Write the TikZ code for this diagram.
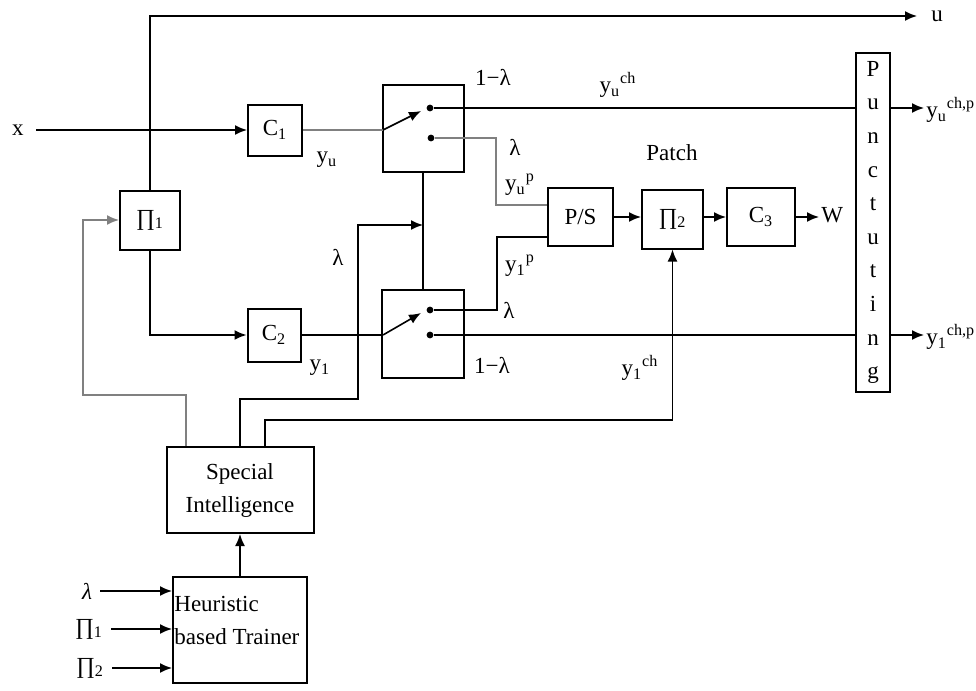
\documentclass[tikz,border=0pt]{standalone}
\usepackage{fontspec}
\setmainfont{Liberation Serif}
\usetikzlibrary{arrows.meta}

\begin{document}
\begin{tikzpicture}[x=0.5pt, y=-0.5pt,
        font=\fontsize{11.5}{16.5}\selectfont,
        box/.style={draw, rectangle, line width=1pt, inner sep=0pt, text centered},
        lbl/.style={inner sep=1pt},
        wire/.style={line width=0.8pt},
        faint/.style={line width=0.8pt, black!50},
        arrow/.style={-{Latex[length=6pt,width=5pt]}, line width=0.8pt},
        contact/.style={circle, fill, inner sep=0pt, minimum size=3.4pt}
    ]
    \useasboundingbox (0,0) rectangle (976,691);

    % Encoders
    \begin{scope}
        \node[box, minimum width=30pt, minimum height=29.5pt] (Pi1) at (150,220) {∏\textsubscript{1}};
        \node[box, minimum width=27pt, minimum height=25.5pt] (C1) at (275,130) {C\textsubscript{1}};
        \node[box, minimum width=26.5pt, minimum height=26.5pt] (C2) at (274,335) {C\textsubscript{2}};
    \end{scope}

    % Switches
    \begin{scope}
        \node[box, minimum width=40.5pt, minimum height=43.5pt] (SW1) at (423,128.5) {};
        \node[box, minimum width=41pt, minimum height=44pt] (SW2) at (423,334) {};
        \node[contact] (sw1a) at (430,108) {};
        \node[contact] (sw1b) at (431,138) {};
        \node[contact] (sw2a) at (430,310) {};
        \node[contact] (sw2b) at (430,335) {};
        \coordinate (sw1in) at (383,130);
        \coordinate (sw1tip) at (421,111);
        \coordinate (sw2in) at (383,335);
        \coordinate (sw2tip) at (421,313);
    \end{scope}

    % Patch chain
    \begin{scope}
        \node[box, minimum width=32.5pt, minimum height=29pt] (PS) at (580.5,217) {P/S};
        \node[box, minimum width=30.5pt, minimum height=29.5pt] (Pi2) at (672.5,219) {∏\textsubscript{2}};
        \node[box, minimum width=34pt, minimum height=29pt] (C3) at (761,217) {C\textsubscript{3}};
        \node[box, minimum width=17pt, minimum height=169.5pt, align=center, font=\fontsize{11.5}{16.8}\selectfont] (Punct) at (873,222.5) {P\\u\\n\\c\\t\\u\\t\\i\\n\\g};
    \end{scope}

    % Trainer
    \begin{scope}
        \node[box, minimum width=73.5pt, minimum height=43pt, align=center] (SI) at (240,490) {Special\\Intelligence};
        \node[box, minimum width=67pt, minimum height=53pt, label={[lbl, anchor=north west, align=left, yshift=-9pt]north west:Heuristic\\based Trainer}] (HT) at (240,630) {};
    \end{scope}

    % Labels
    \node[lbl] (xin) at (18,130) {x};
    \node[lbl] (yu) at (327,160) {y\textsubscript{u}};
    \node[lbl] (y1) at (320,368) {y\textsubscript{1}};
    \node[lbl] (lamSI) at (338,257) {λ};
    \node[lbl] (oml1) at (493,77) {1−λ};
    \node[lbl] (oml2) at (492,365) {1−λ};
    \node[lbl] (lam1) at (515,147) {λ};
    \node[lbl] (lam2) at (509,310) {λ};
    \node[lbl] (yup) at (520,185) {y\textsubscript{u}\textsuperscript{p}};
    \node[lbl] (y1p) at (520,266) {y\textsubscript{1}\textsuperscript{p}};
    \node[lbl] (yuch) at (618,85) {y\textsubscript{u}\textsuperscript{ch}};
    \node[lbl] (y1ch) at (640,368) {y\textsubscript{1}\textsuperscript{ch}};
    \node[lbl] (patch) at (672,153) {Patch};
    \node[lbl, anchor=west] (uout) at (929,16) {u};
    \node[lbl, anchor=west] (wout) at (819,215) {W};
    \node[lbl, anchor=west] (yuout) at (924,110) {y\textsubscript{u}\textsuperscript{ch,p}};
    \node[lbl, anchor=west] (y1out) at (924,337) {y\textsubscript{1}\textsuperscript{ch,p}};
    \node[lbl] (lamIn) at (87,591) {\textit{λ}};
    \node[lbl] (piAIn) at (89,629) {∏\textsubscript{1}};
    \node[lbl] (piBIn) at (90,668) {∏\textsubscript{2}};

    % Connections
    \draw[arrow, shorten >=6pt] (Pi1.north) |- (uout.west);
    \draw[arrow, shorten <=5pt] (xin) -- (C1);
    \draw[faint] (C1) -- (sw1in);
    \draw[arrow] (sw1in) -- (sw1tip);
    \draw[wire] (sw1a) -- (sw1a -| Punct.west);
    \coordinate (jU) at (496,205);
    \draw[faint] (sw1b) -| (jU) -- (jU -| PS.west);
    \draw[arrow] (Pi1.south) |- (C2.west);
    \draw[wire] (C2) -- (sw2in);
    \draw[arrow] (sw2in) -- (sw2tip);
    \coordinate (jL) at (497,237);
    \draw[wire] (sw2a) -| (jL) -- (jL -| PS.west);
    \draw[wire] (sw2b) -- (sw2b -| Punct.west);
    \draw[wire] (SW1) -- (SW2);
    \draw[arrow] (PS.east) -- (PS.east -| Pi2.west);
    \draw[arrow] (C3.west -| Pi2.east) -- (C3.west);
    \draw[arrow] (C3.east) -- (C3.east -| wout.west);
    \draw[arrow] (sw1a -| Punct.east) -- (sw1a -| yuout.west);
    \draw[arrow] (sw2b -| Punct.east) -- (sw2b -| y1out.west);

    % Feedback from Special Intelligence
    \coordinate (fbPi) at (83,395);
    \coordinate (fbLam) at (358,399);
    \coordinate (fbPi2) at (672.5,420);
    \coordinate (lamTap) at (423,225);
    \draw[arrow, black!50] ([xshift=-27pt]SI.north) |- (fbPi) |- (Pi1.west);
    \draw[arrow] (SI.north) |- (fbLam) |- (lamTap);
    \draw[arrow] ([xshift=12.5pt]SI.north) |- (fbPi2) -- (Pi2.south);
    \draw[arrow] (HT) -- (SI);
    \draw[arrow, shorten <=3pt] (lamIn) -- (lamIn -| HT.west);
    \draw[arrow, shorten <=3pt] (piAIn) -- (piAIn -| HT.west);
    \draw[arrow, shorten <=3pt] (piBIn) -- (piBIn -| HT.west);
\end{tikzpicture}
\end{document}
